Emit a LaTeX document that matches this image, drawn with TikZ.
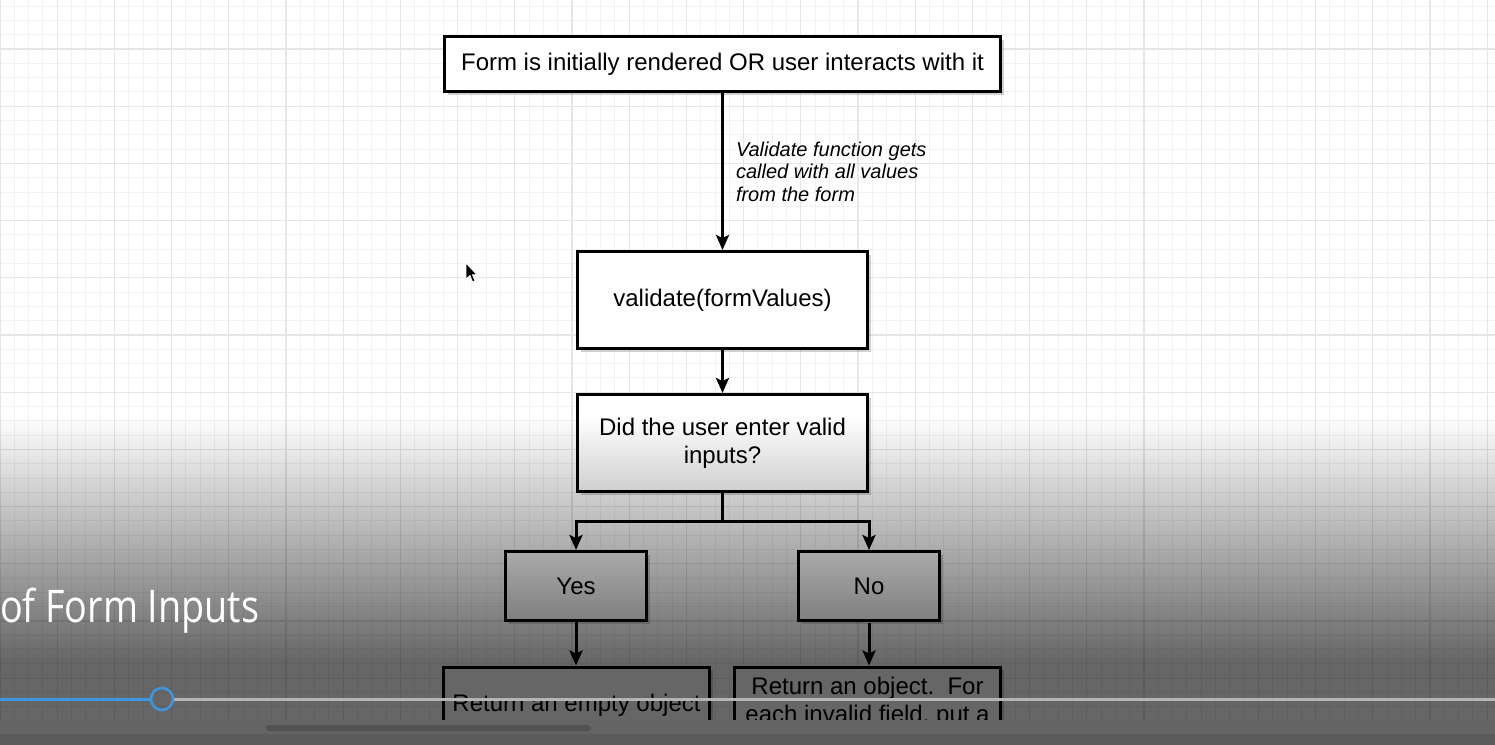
\documentclass[tikz,border=0pt]{standalone}
\usepackage{fontspec}
\setmainfont{Liberation Sans}
\newfontfamily\titlefont{Open Sans}
\usetikzlibrary{arrows.meta,shadows}
\definecolor{gridminor}{HTML}{F2F2F2}
\definecolor{gridmajor}{HTML}{E6E6E6}
\definecolor{bandA}{HTML}{646464}
\definecolor{bandB}{HTML}{5A5A5A}
\definecolor{scrollc}{HTML}{525252}
\definecolor{progblue}{HTML}{3C97E0}
\definecolor{proggray}{HTML}{B4B4B4}
\begin{document}
\begin{tikzpicture}[x=1pt,y=-1pt,
  box/.style={draw=black, line width=3pt, fill=white, align=center,
    font=\fontsize{24}{28}\selectfont, inner sep=0pt,
    drop shadow={shadow xshift=3pt, shadow yshift=-3pt, opacity=0.18, fill=black}},
  arr/.style={line width=3pt, -{Stealth[length=15pt,width=13pt,inset=3pt]}},
  plain/.style={line width=3pt},
  lbl/.style={font=\fontsize{20}{22.5}\selectfont\itshape, align=left, inner sep=0pt}]
\useasboundingbox (0,0) rectangle (1495,744);
\fill[white] (0,0) rectangle (1495,744);
% grid
\foreach \i in {0,...,105} {
  \draw[gridminor, line width=1pt] (\i*14.3,0) -- (\i*14.3,744);
}
\foreach \j in {0,...,53} {
  \draw[gridminor, line width=1pt] (0,-8.2+\j*14.3) -- (1495,-8.2+\j*14.3);
}
\foreach \i in {0,...,26} {
  \draw[gridmajor, line width=1.2pt] (\i*57.2,0) -- (\i*57.2,744);
}
\foreach \j in {0,...,13} {
  \draw[gridmajor, line width=1.2pt] (0,-8.2+\j*57.2) -- (1495,-8.2+\j*57.2);
}
% boxes
\node[box, minimum width=556pt, minimum height=55pt] (b1) at (722.5,64)
  {Form is initially rendered OR user interacts with it};
\node[box, minimum width=290pt, minimum height=97pt] (b2) at (722.5,300)
  {validate(formValues)};
\node[box, minimum width=290pt, minimum height=97pt] (b3) at (722.5,443)
  {Did the user enter valid\\inputs?};
\node[box, minimum width=141pt, minimum height=69pt] (yes) at (576,586) {Yes};
\node[box, minimum width=141pt, minimum height=69pt] (no) at (869,586) {No};
\node[box, anchor=north, minimum width=266pt, inner ysep=27pt] (retL) at (576.5,665.5)
  {Return an empty object};
\node[box, anchor=north, minimum width=266pt, inner ysep=10pt] (retR) at (867.5,665.5)
  {Return an object.\ \ For\\each invalid field, put a};
% connectors
\draw[arr] (b1) -- node[lbl, anchor=west, xshift=12pt]
  {Validate function gets\\called with all values\\from the form} (b2);
\draw[arr] (b2) -- (b3);
\coordinate (split) at (722.5,521);
\draw[plain] (b3.south) -- (split);
\draw[arr] (split) -| (yes.north);
\draw[arr] (split) -| (no.north);
\draw[arr] (yes.south) -- (yes.south |- retL.north);
\draw[arr] (retR.north -| no.south) ++(0,-43) -- (retR.north -| no.south);
% mouse cursor
\filldraw[fill=black, draw=white, line width=0.8pt]
  (466,263) -- (466,279) -- (470,275.5) -- (472.5,282) -- (475,281)
  -- (472.5,274.8) -- (477,274.8) -- cycle;
% video overlay gradient
\foreach \k in {0,...,81} {
  \pgfmathsetmacro\op{0.6*\k/82}
  \fill[black, fill opacity=\op] (0,414+\k*3) rectangle (1495,417+\k*3);
}
\fill[black, fill opacity=0.6] (0,660) rectangle (1495,720);
% title
\node[anchor=base west, inner sep=0pt, text=white] (title) at (0,622)
  {\resizebox{259pt}{\height}{\titlefont\fontsize{45}{50}\selectfont of Form Inputs}};
% progress bar
\draw[progblue, line width=3pt] (0,699) -- (151,699);
\draw[proggray, line width=3pt] (173,699) -- (1495,699);
\draw[progblue, line width=2.5pt] (162,699) circle[radius=11pt];
% bottom bands
\fill[bandA] (0,720) rectangle (1495,734);
\fill[bandB] (0,734) rectangle (1495,770);
\fill[scrollc, rounded corners=3pt] (266,725) rectangle (591,731);
\end{tikzpicture}
\end{document}
